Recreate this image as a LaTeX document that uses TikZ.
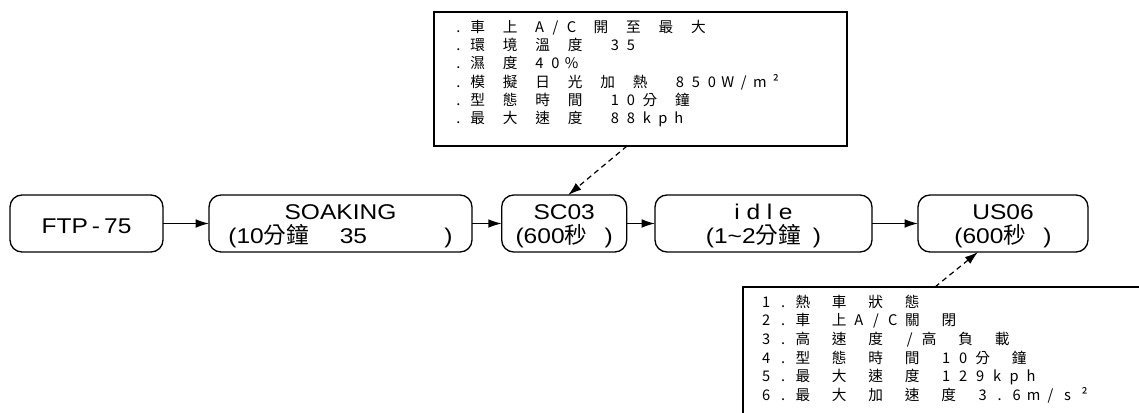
\documentclass[tikz,border=0pt]{standalone}
\usepackage{fontspec}
\setmainfont{Liberation Sans}
\newfontfamily\lblf[FakeStretch=1.15]{Liberation Sans}
\newfontfamily\cjkf{Noto Sans CJK TC}
\usetikzlibrary{arrows.meta,calc}
\newcommand\cj[1]{{\cjkf\fontsize{17pt}{19pt}\selectfont #1}}
% spaced text: #1 latin cell, #2 letter space, #3 extra space, #4 text
\newcommand\spacedtext[4]{\begingroup\def\spH{#1}\def\spL{#2}\def\spS{#3}\sploop#4\spend\endgroup}
\def\spend{SPEND}
\def\sploop#1{\ifx#1\spend\else\spput#1\expandafter\sploop\fi}
\def\spput#1{\ifx#1\ \kern\dimexpr\spS+\spL\relax\else\ifnum`#1>11903 #1\kern\spL\relax\else\makebox[\spH]{#1}\kern\spL\relax\fi\fi}
\newcommand\toptext[1]{\spacedtext{6.375pt}{5.625pt}{2.125pt}{#1}}
\newcommand\bottext[1]{\spacedtext{7.125pt}{5.625pt}{5.1pt}{#1}}
\begin{document}
\begin{tikzpicture}[x=0.75pt,y=-0.75pt,
  proc/.style={draw, line width=1pt, rounded corners=9pt, minimum height=42.75pt, inner sep=0pt, outer sep=0pt},
  lbl/.style={anchor=base, inner sep=0pt, font=\lblf\fontsize{16pt}{18pt}\selectfont},
  flow/.style={line width=1pt, -{Latex[length=10pt,width=6.5pt]}},
  note/.style={draw, line width=1.2pt, inner sep=0pt, outer sep=0pt, anchor=north west},
  link/.style={line width=0.9pt, dash pattern=on 4pt off 3pt, -{Latex[length=10pt,width=6.5pt]}},
  annot/.style={anchor=base west, inner sep=0pt, font=\cjkf\fontsize{11pt}{12pt}\selectfont}]
\clip (0,0) rectangle (1139,412);
\fill[white] (0,0) rectangle (1139,412);

% process boxes
\node[proc, minimum width=114.75pt] (ftp) at (86.5,223.5) {};
\node[proc, minimum width=197.25pt] (soak) at (340.5,223.5) {};
\node[proc, minimum width=93.75pt] (sc) at (564.2,223.5) {};
\node[proc, minimum width=162.75pt] (idle) at (763.5,223.5) {};
\node[proc, minimum width=127.5pt] (us) at (1003,223.5) {};

\node[lbl] (lftp) at (86.5,233) {FTP\kern3pt-\kern3pt75};
\node[lbl] (lsoak1) at (340.5,219) {SOAKING};
\node[lbl] (lsoak2) at (340.5,243) {(10\cj{分鐘}\kern23pt 35\kern58pt)};
\node[lbl] (lsc1) at (564.2,219) {SC03};
\node[lbl] (lsc2) at (564.2,243) {(600\cj{秒}\kern13pt)};
\node[lbl] (lidle1) at (763.5,219) {i\kern5pt d\kern5pt l\kern5pt e};
\node[lbl] (lidle2) at (763.5,243) {(1\textasciitilde 2\cj{分鐘}\kern9pt)};
\node[lbl] (lus1) at (1003,219) {US06};
\node[lbl] (lus2) at (1003,243) {(600\cj{秒}\kern13pt)};

\draw[flow] (ftp) -- (soak);
\draw[flow] (soak) -- (sc);
\draw[flow] (sc) -- (idle);
\draw[flow] (idle) -- (us);

% condition boxes
\node[note, minimum width=309.75pt, minimum height=100.5pt] (cond) at (434,12) {};
\node[note, minimum width=400pt, minimum height=150pt] (spec) at (743,287) {};

\node[annot] (t1) at (454,32) {\toptext{.車\ 上\ A/C\ 開\ 至\ 最\ 大}};
\node[annot] (t2) at (454,50.3) {\toptext{.環\ 境\ 溫\ 度\ \ 35}};
\node[annot] (t3) at (454,68.6) {\toptext{.濕\ 度\ 40\%}};
\node[annot] (t4) at (454,87) {\toptext{.模\ 擬\ 日\ 光\ 加\ 熱\ \ 850W/m²}};
\node[annot] (t5) at (454,105.3) {\toptext{.型\ 態\ 時\ 間\ \ 10分\ 鐘}};
\node[annot] (t6) at (454,123.6) {\toptext{.最\ 大\ 速\ 度\ \ 88kph}};

\node[annot] (b1) at (761.25,307.3) {\bottext{1.熱\ 車\ 狀\ 態}};
\node[annot] (b2) at (761.25,325.9) {\bottext{2.車\ 上A/C關\ 閉}};
\node[annot] (b3) at (761.25,344.5) {\bottext{3.高\ 速\ 度\ /高\ 負\ 載}};
\node[annot] (b4) at (761.25,363.1) {\bottext{4.型\ 態\ 時\ 間\ 10分\ 鐘}};
\node[annot] (b5) at (761.25,381.7) {\bottext{5.最\ 大\ 速\ 度\ 129kph}};
\node[annot] (b6) at (761.25,400.3) {\bottext{6.最\ 大\ 加\ 速\ 度\ 3.6m/s²}};

\draw[link] ($(cond.south west)+(193,0)$) -- ($(sc.north)+(4,0)$);
\draw[link] ($(spec.north west)+(192,0)$) -- ($(us.south)+(-25,0)$);
\end{tikzpicture}
\end{document}
